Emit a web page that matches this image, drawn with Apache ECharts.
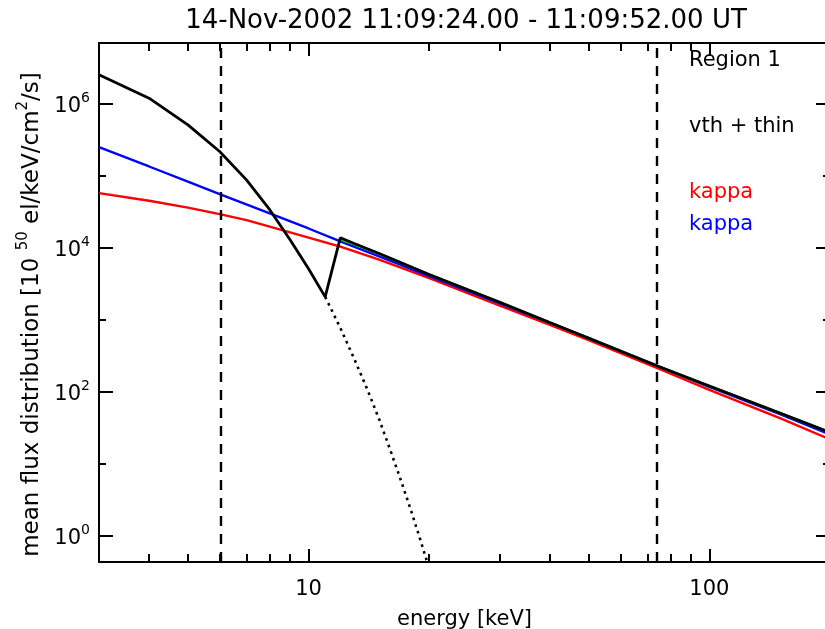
<!DOCTYPE html>
<html>
<head>
<meta charset="utf-8">
<title>mean flux distribution</title>
<script src="https://cdn.jsdelivr.net/npm/echarts@6/dist/echarts.min.js"></script>
<style>
  html, body { margin: 0; padding: 0; background: #fff; }
  #chart { width: 825px; height: 629px; }
</style>
</head>
<body>
<div id="chart"></div>
<script>
// 坐标范围 (keV, 10^50 el/keV/cm^2/s)
const xRange = [3, 200]
const yRange = [0.435, 7.0e6]

// 刻度
const xMajorTicks = [10, 100]
const xMinorTicks = [4, 5, 6, 7, 8, 9, 20, 30, 40, 50, 60, 70, 80, 90]
const yMajorTicks = [1, 1e2, 1e4, 1e6]
const yMinorTicks = [10, 1e3, 1e5]

// 拟合区间 (虚线)
const fitRange = [6, 74]

// vth + thin 总和 (黑线)
const totalEnergy = [3, 4, 5, 6, 7, 8, 9, 10, 11, 12, 13, 15, 20, 30, 40, 50, 75, 100, 150, 200]
const totalFlux = [2.53e6, 1.20e6, 5.1e5, 2.18e5, 8.8e4, 3.39e4, 1.29e4, 5.13e3, 2.09e3,
  1.38e4, 1.15e4, 8.34e3, 4.27e3, 1.76e3, 920, 557, 224, 121, 50.9, 27.5]

// thin 分量 (绿线)
const thinEnergy = [12, 13, 15, 20, 30, 40, 50, 75, 100, 150, 200]
const thinFlux = [1.30e4, 1.12e4, 8.3e3, 4.27e3, 1.76e3, 920, 557, 224, 121, 50.9, 27.5]

// vth 延伸 (点线)
const vthEnergy = [11, 12, 13, 14, 15, 16, 17, 18, 19, 20]
const vthFlux = [2.09e3, 776, 288, 110, 41.7, 15.5, 5.9, 2.29, 0.89, 0.35]

// kappa (红)
const kappaRedEnergy = [3, 4, 5, 6, 7, 8, 10, 12, 15, 20, 30, 40, 50, 75, 100, 150, 200]
const kappaRedFlux = [5.75e4, 4.52e4, 3.63e4, 2.94e4, 2.43e4, 1.97e4, 1.39e4, 1.04e4, 6.86e3,
  3.8e3, 1.58e3, 851, 525, 209, 107, 43.2, 21.9]

// kappa (蓝)
const kappaBlueEnergy = [3, 4, 5, 6, 8, 10, 12, 15, 20, 30, 40, 50, 75, 100, 150, 200]
const kappaBlueFlux = [2.51e5, 1.35e5, 8.3e4, 5.6e4, 3.02e4, 1.86e4, 1.23e4, 7.6e3, 4.07e3,
  1.70e3, 912, 562, 224, 117.5, 49, 25.7]

// 图注文字
const titleText = '14-Nov-2002 11:09:24.00 - 11:09:52.00 UT'
const noteTexts = ['Region 1', 'vth + thin', 'kappa', 'kappa']
const noteColors = ['#000', '#000', '#ff0000', '#0000ff']

const FONT = 'DejaVu Sans'
const lg = Math.log10
const toPairs = (xs, ys) => xs.map((x, i) => [lg(x), lg(ys[i])])

const xMin = lg(xRange[0]), xMax = lg(xRange[1])
const yMin = lg(yRange[0]), yMax = lg(yRange[1])
const black = { color: '#000', width: 2 }

// 坐标轴 (IDL 风格, 刻度朝内, 四边都有)
function makeX(position, ticks, len, extra) {
  return Object.assign({
    type: 'value', position, min: xMin, max: xMax,
    axisLine: { show: false, onZero: false },
    axisTick: { inside: true, length: len, customValues: ticks.map(lg), lineStyle: black },
    axisLabel: { show: false },
    splitLine: { show: false }
  }, extra || {})
}
function makeY(position, ticks, len, extra) {
  return Object.assign({
    type: 'value', position, min: yMin, max: yMax,
    axisLine: { show: false, onZero: false },
    axisTick: { inside: true, length: len, customValues: ticks.map(lg), lineStyle: black },
    axisLabel: { show: false },
    splitLine: { show: false }
  }, extra || {})
}

const option = {
  animation: false,
  backgroundColor: '#fff',
  title: {
    text: titleText,
    left: 466, top: 8, textAlign: 'center', padding: 0,
    textStyle: { fontFamily: FONT, fontSize: 26, fontWeight: 'normal', color: '#000' }
  },
  grid: { left: 99, top: 43, width: 731, height: 519, outerBoundsMode: 'none', containLabel: false },
  xAxis: [
    makeX('bottom', xMajorTicks, 13, {
      axisLine: { show: true, onZero: false, lineStyle: black },
      axisLabel: {
        show: true, customValues: xMajorTicks.map(lg), margin: 17,
        formatter: v => String(Math.round(Math.pow(10, v))),
        color: '#000', fontFamily: FONT, fontSize: 21
      },
      name: 'energy [keV]', nameLocation: 'middle', nameGap: 47,
      nameTextStyle: { color: '#000', fontFamily: FONT, fontSize: 21, lineHeight: 21 }
    }),
    makeX('bottom', xMinorTicks, 8),
    makeX('top', xMajorTicks, 13, { axisLine: { show: true, onZero: false, lineStyle: black } }),
    makeX('top', xMinorTicks, 8)
  ],
  yAxis: [
    makeY('left', yMajorTicks, 14, {
      axisLine: { show: true, onZero: false, lineStyle: black },
      axisLabel: {
        show: true, customValues: yMajorTicks.map(lg), margin: 9,
        formatter: v => '{b|10}{s|' + Math.round(v) + '}',
        color: '#000',
        rich: {
          b: { fontFamily: FONT, fontSize: 21, lineHeight: 26, verticalAlign: 'bottom', color: '#000' },
          s: { fontFamily: FONT, fontSize: 14, lineHeight: 14, verticalAlign: 'top', color: '#000' }
        }
      },
      name: '{n|mean flux distribution [10 }{s|50}{n| el/keV/cm}{s|2}{n|/s]}',
      nameLocation: 'middle', nameGap: 54,
      nameTextStyle: {
        padding: [0, 24, 0, 0],
        rich: {
          n: { fontFamily: FONT, fontSize: 23, lineHeight: 28, verticalAlign: 'bottom', color: '#000' },
          s: { fontFamily: FONT, fontSize: 15, lineHeight: 15, verticalAlign: 'top', color: '#000' }
        }
      }
    }),
    makeY('left', yMinorTicks, 7),
    makeY('right', yMajorTicks, 14, { axisLine: { show: true, onZero: false, lineStyle: black } }),
    makeY('right', yMinorTicks, 7)
  ],
  graphic: noteTexts.map((t, i) => ({
    type: 'text',
    x: 689,
    y: [61, 127, 193, 225][i],
    silent: true,
    style: { text: t, fill: noteColors[i], font: '21px "' + FONT + '"', verticalAlign: 'middle' }
  })),
  series: [
    {
      name: 'kappa red', type: 'line', showSymbol: false, symbol: 'none',
      data: toPairs(kappaRedEnergy, kappaRedFlux),
      lineStyle: { color: '#ff0000', width: 2.4 },
      markLine: {
        silent: true, symbol: ['none', 'none'], label: { show: false },
        lineStyle: { color: '#000', width: 2.4, type: [10, 8] },
        emphasis: { disabled: true },
        data: fitRange.map(e => ({ xAxis: lg(e) }))
      }
    },
    {
      name: 'kappa blue', type: 'line', showSymbol: false, symbol: 'none',
      data: toPairs(kappaBlueEnergy, kappaBlueFlux),
      lineStyle: { color: '#0000ff', width: 2.4 }
    },
    {
      name: 'thin', type: 'line', showSymbol: false, symbol: 'none',
      data: toPairs(thinEnergy, thinFlux),
      lineStyle: { color: '#00cc00', width: 2.4 }
    },
    {
      name: 'vth + thin', type: 'line', showSymbol: false, symbol: 'none',
      data: toPairs(totalEnergy, totalFlux),
      lineStyle: { color: '#000', width: 2.8 }
    },
    {
      name: 'vth', type: 'line', showSymbol: false, symbol: 'none',
      data: toPairs(vthEnergy, vthFlux),
      lineStyle: { color: '#000', width: 2.6, type: [2.6, 4.4] }
    }
  ]
}

const chart = echarts.init(document.getElementById('chart'))
chart.setOption(option)
</script>
</body>
</html>
